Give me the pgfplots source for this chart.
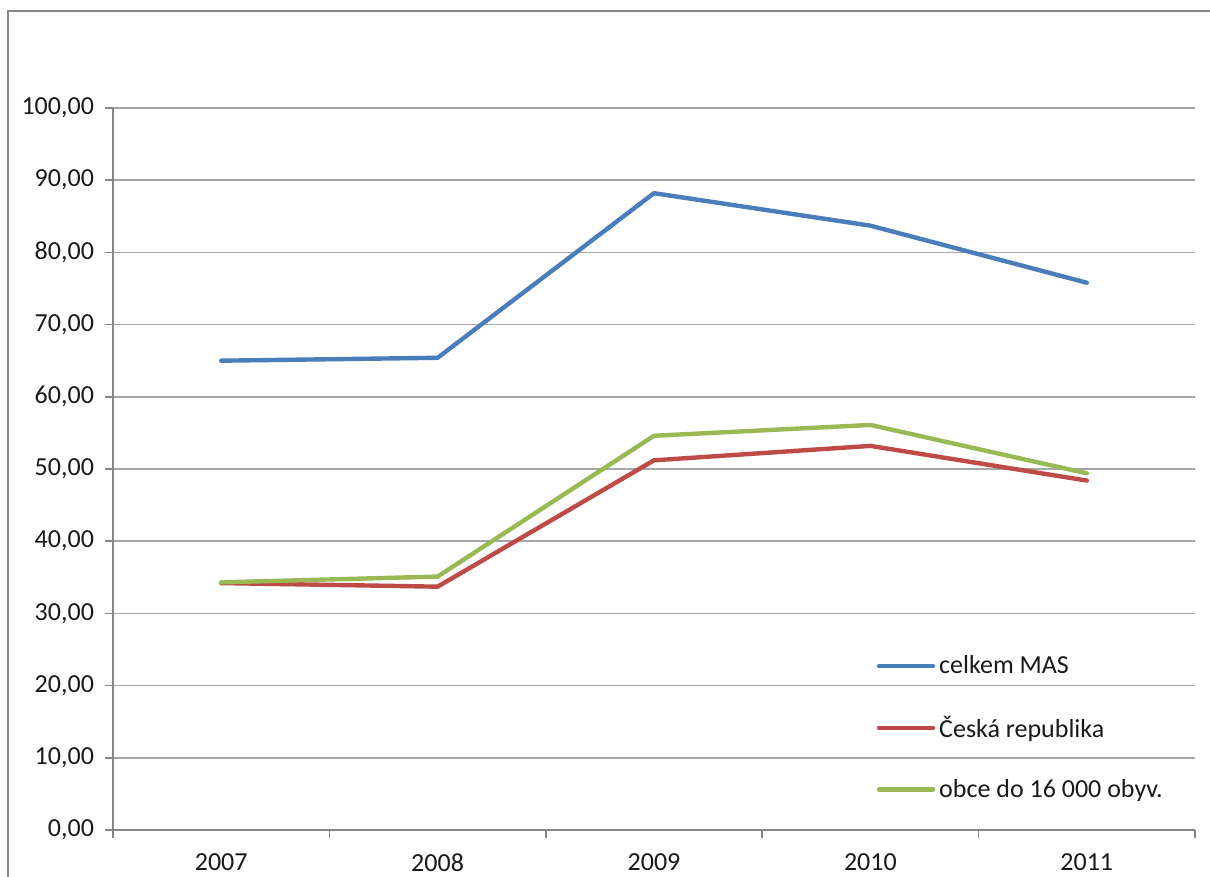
\documentclass[border=0pt]{standalone}
\usepackage{fontspec}
\setmainfont{Carlito}
\usepackage{pgfplots}
\pgfplotsset{compat=1.18}
\definecolor{cblue}{HTML}{4A7EBB}
\definecolor{cred}{HTML}{BE4B48}
\definecolor{cgreen}{HTML}{98B954}
\definecolor{framec}{HTML}{868686}
\definecolor{gridc}{HTML}{A6A6A6}
\begin{document}
\begin{tikzpicture}
\useasboundingbox (0pt,0pt) rectangle (605pt,438.5pt);
\draw[framec, line width=1.3pt] (4pt,433pt) rectangle (630pt,-30pt);
\begin{axis}[
  at={(56.5pt,23.5pt)}, anchor=south west,
  scale only axis, width=541pt, height=361pt,
  xmin=-0.5, xmax=4.5, ymin=0, ymax=100,
  axis x line*=bottom, axis y line*=left,
  axis line style={-, framec, line width=0.8pt},
  ytick={0,10,...,100},
  ymajorgrids, major grid style={gridc, line width=0.8pt},
  tick align=outside, major tick length=4pt,
  tick style={framec, line width=0.8pt},
  xtick={-0.5,0.5,1.5,2.5,3.5,4.5}, xticklabels={},
  extra x ticks={0,1,2,3,4},
  extra x tick labels={2007,2008,2009,2010,2011},
  extra x tick style={major tick length=0pt, grid=none, xticklabel style={yshift=-8.5pt}},
  yticklabel style={xshift=-2pt, /pgf/number format/.cd, fixed, fixed zerofill, precision=2, use comma, assume math mode=true},
  ticklabel style={font=\fontsize{13}{15}\selectfont, text=black!90},
  legend style={draw=none, fill=none, at={(0.70,0.253)}, anchor=north west,
    row sep=15.5pt, font=\fontsize{13}{15}\selectfont, text=black!90},
  legend cell align=left,
  legend image code/.code={\draw[#1, line width=2.2pt] (0pt,0pt) -- (27pt,0pt);},
  every axis plot/.append style={line width=2.2pt, line join=round, line cap=round},
]
\addplot[cblue] coordinates {(0,65.0)(1,65.4)(2,88.2)(3,83.7)(4,75.8)};
\addlegendentry{celkem MAS}
\addplot[cred] coordinates {(0,34.2)(1,33.7)(2,51.2)(3,53.2)(4,48.4)};
\addlegendentry{Česká republika}
\addplot[cgreen] coordinates {(0,34.3)(1,35.1)(2,54.6)(3,56.1)(4,49.4)};
\addlegendentry{obce do 16 000 obyv.}
\end{axis}
\end{tikzpicture}
\end{document}
